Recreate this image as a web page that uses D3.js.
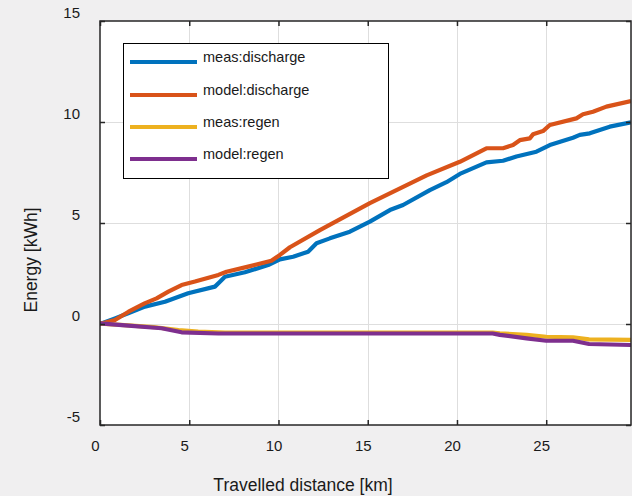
<!DOCTYPE html>
<html>
<head>
<meta charset="utf-8">
<script src="https://cdn.jsdelivr.net/npm/d3@7"></script>
<style>
  html, body { margin: 0; padding: 0; background: #f0eff0; }
  svg { display: block; font-family: "Liberation Sans", Arial, sans-serif; }
</style>
</head>
<body>
<svg id="chart" width="632" height="496"></svg>
<script>
// ---- data ----
const xTicks = [0, 5, 10, 15, 20, 25];
const yTicks = [-5, 0, 5, 10, 15];
const seriesNames = ["meas:discharge", "model:discharge", "meas:regen", "model:regen"];
const seriesColors = ["#0072BD", "#D95319", "#EDB120", "#7E2F8E"];

const measDischargeX = [0, 0.84, 1.58, 2.52, 3.64, 4.94, 6.44, 6.72, 7.0, 8.12, 9.42, 10.08, 10.82, 11.66, 12.13, 12.88, 14.0, 15.12, 16.24, 16.98, 18.48, 19.41, 20.16, 21.65, 22.58, 23.33, 24.45, 25.2, 26.5, 26.88, 27.44, 28.56, 29.75];
const measDischargeY = [0, 0.28, 0.53, 0.86, 1.1, 1.52, 1.85, 2.09, 2.34, 2.56, 2.92, 3.2, 3.33, 3.58, 4.0, 4.24, 4.57, 5.07, 5.64, 5.89, 6.63, 7.02, 7.43, 8.0, 8.08, 8.29, 8.53, 8.86, 9.22, 9.36, 9.44, 9.77, 9.98];

const modelDischargeX = [0, 0.84, 1.6, 2.5, 3.17, 3.83, 4.57, 5.32, 6.63, 7.09, 8.3, 9.6, 10.08, 10.64, 12.32, 15.12, 18.3, 20.16, 21.65, 22.58, 23.14, 23.52, 24.08, 24.26, 24.82, 25.2, 26.69, 27.06, 27.62, 28.37, 29.75];
const modelDischargeY = [0, 0.2, 0.61, 1.02, 1.27, 1.6, 1.93, 2.1, 2.43, 2.59, 2.84, 3.13, 3.42, 3.8, 4.65, 5.98, 7.36, 8.03, 8.7, 8.7, 8.86, 9.1, 9.19, 9.39, 9.55, 9.85, 10.18, 10.38, 10.51, 10.76, 11.04];

const measRegenX = [0, 1.6, 3.0, 4.4, 5.5, 7.0, 22.0, 22.4, 23.9, 25.0, 26.5, 27.4, 29.75];
const measRegenY = [0.02, -0.07, -0.15, -0.3, -0.38, -0.43, -0.43, -0.46, -0.54, -0.63, -0.66, -0.76, -0.79];

const modelRegenX = [0, 1.59, 3.45, 4.57, 6.63, 22.0, 22.4, 23.9, 25.0, 26.5, 27.4, 29.75];
const modelRegenY = [0.03, -0.08, -0.21, -0.41, -0.47, -0.47, -0.54, -0.71, -0.83, -0.83, -0.99, -1.04];

const seriesData = [
  d3.zip(measDischargeX, measDischargeY),
  d3.zip(modelDischargeX, modelDischargeY),
  d3.zip(measRegenX, measRegenY),
  d3.zip(modelRegenX, modelRegenY)
];

// ---- layout ----
const svg = d3.select("#chart");
const L = 100, R = 631, T = 21, B = 425;
const x = d3.scaleLinear().domain([0, 29.75]).range([L, R]);
const y = d3.scaleLinear().domain([-5, 15]).range([B, T]);
const fmt = d => String(d);

// plot background
svg.append("rect").attr("x", L).attr("y", T).attr("width", R - L).attr("height", B - T).attr("fill", "#ffffff");

// grid
const grid = svg.append("g").attr("stroke", "#dedede").attr("stroke-width", 1);
xTicks.filter(d => d > 0).forEach(d => {
  grid.append("line").attr("x1", Math.round(x(d)) + 0.5).attr("x2", Math.round(x(d)) + 0.5).attr("y1", T).attr("y2", B);
});
yTicks.filter(d => d > -5 && d < 15).forEach(d => {
  grid.append("line").attr("y1", Math.round(y(d)) + 0.5).attr("y2", Math.round(y(d)) + 0.5).attr("x1", L).attr("x2", R);
});

// lines
svg.append("clipPath").attr("id", "clip").append("rect").attr("x", L).attr("y", T).attr("width", R - L).attr("height", B - T);
const line = d3.line().x(d => x(d[0])).y(d => y(d[1]));
const lg = svg.append("g").attr("clip-path", "url(#clip)");
seriesData.forEach((s, i) => {
  lg.append("path").datum(s).attr("d", line).attr("fill", "none")
    .attr("stroke", seriesColors[i]).attr("stroke-width", 4.2)
    .attr("stroke-linejoin", "round").attr("stroke-linecap", "butt");
});

// axes box and ticks
const axisColor = "#262626";
const ax = svg.append("g");
ax.append("rect").attr("x", L).attr("y", T).attr("width", R - L).attr("height", B - T)
  .attr("fill", "none").attr("stroke", axisColor).attr("stroke-width", 1.5);

const xAxisB = d3.axisBottom(x).tickValues(xTicks).tickSizeInner(-5).tickSizeOuter(0).tickFormat(fmt);
const gxb = svg.append("g").attr("transform", `translate(0,${B})`).call(xAxisB);
gxb.select(".domain").remove();
gxb.selectAll(".tick line").attr("stroke", axisColor).attr("stroke-width", 1.5);
gxb.selectAll(".tick text").attr("fill", "#1a1a1a").attr("font-size", "15px").attr("dx", "-5").attr("y", 26).attr("dy", 0);

const xAxisT = d3.axisTop(x).tickValues(xTicks).tickSizeInner(-5).tickSizeOuter(0).tickFormat("");
const gxt = svg.append("g").attr("transform", `translate(0,${T})`).call(xAxisT);
gxt.select(".domain").remove();
gxt.selectAll(".tick line").attr("stroke", axisColor).attr("stroke-width", 1.5);

const yAxisL = d3.axisLeft(y).tickValues(yTicks).tickSizeInner(-5).tickSizeOuter(0).tickFormat(fmt);
const gyl = svg.append("g").attr("transform", `translate(${L},0)`).call(yAxisL);
gyl.select(".domain").remove();
gyl.selectAll(".tick line").attr("stroke", axisColor).attr("stroke-width", 1.5);
gyl.selectAll(".tick text").attr("fill", "#1a1a1a").attr("font-size", "15px").attr("x", -20).attr("dy", "-0.25em");

const yAxisR = d3.axisRight(y).tickValues(yTicks).tickSizeInner(-5).tickSizeOuter(0).tickFormat("");
const gyr = svg.append("g").attr("transform", `translate(${R},0)`).call(yAxisR);
gyr.select(".domain").remove();
gyr.selectAll(".tick line").attr("stroke", axisColor).attr("stroke-width", 1.5);

// axis labels
svg.append("text").attr("x", 303).attr("y", 491).attr("text-anchor", "middle")
  .attr("font-size", "17.5px").attr("fill", "#1a1a1a").text("Travelled distance [km]");
svg.append("text").attr("transform", "translate(37,260) rotate(-90)").attr("text-anchor", "middle")
  .attr("font-size", "17.5px").attr("fill", "#1a1a1a").text("Energy [kWh]");

// legend
const leg = svg.append("g");
leg.append("rect").attr("x", 123.5).attr("y", 43.5).attr("width", 265).attr("height", 135)
  .attr("fill", "#ffffff").attr("stroke", "#000000").attr("stroke-width", 1);
const legY = [62, 95, 127, 159];
seriesNames.forEach((n, i) => {
  leg.append("line").attr("x1", 130).attr("x2", 197).attr("y1", legY[i]).attr("y2", legY[i])
    .attr("stroke", seriesColors[i]).attr("stroke-width", 4.2);
  leg.append("text").attr("x", 203).attr("y", legY[i]).attr("font-size", "14.5px").attr("fill", "#1a1a1a").text(n);
});
</script>
</body>
</html>
